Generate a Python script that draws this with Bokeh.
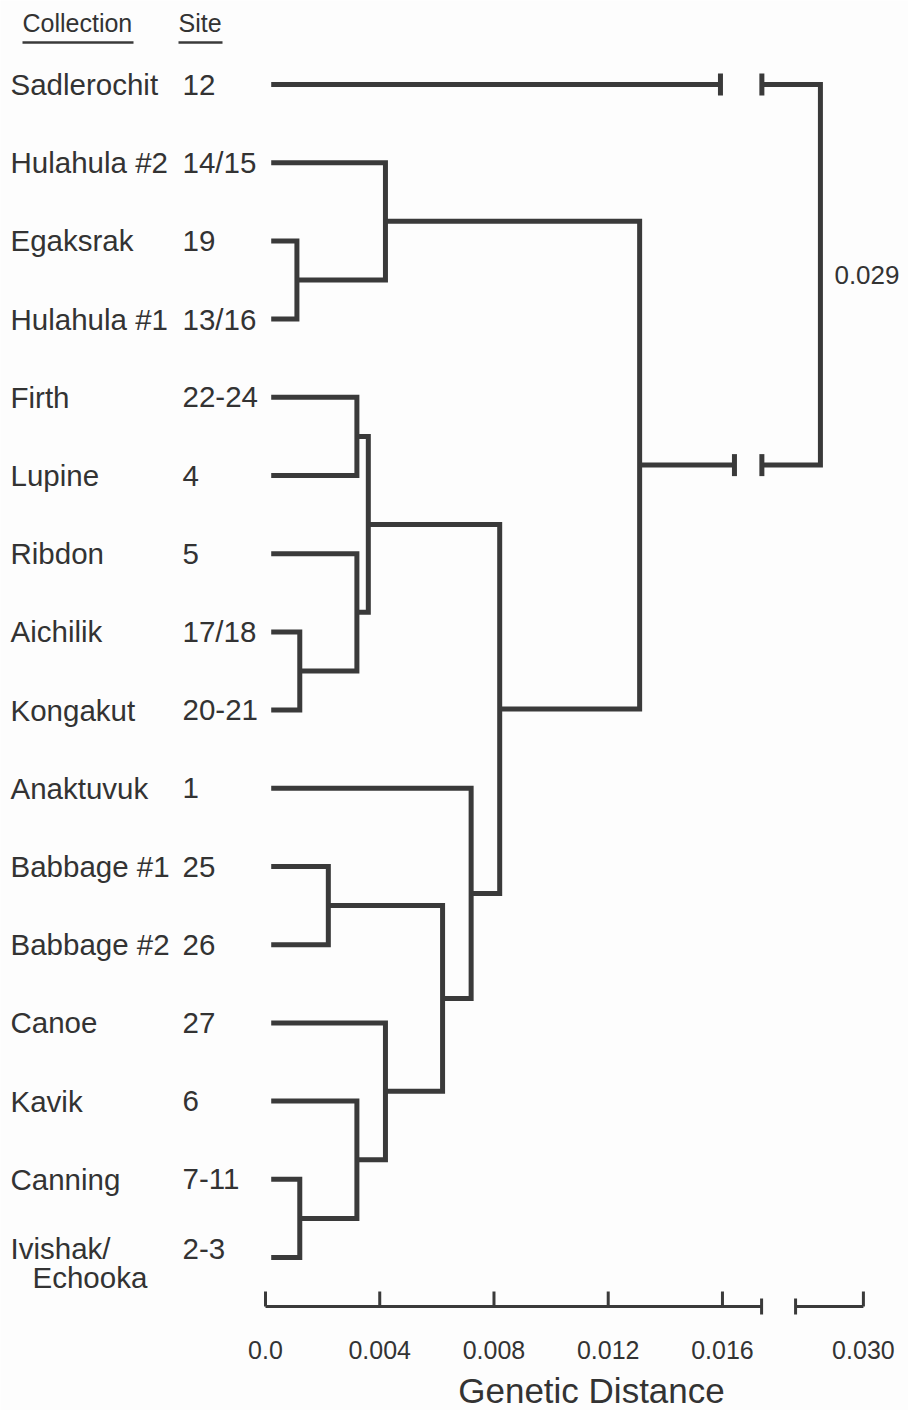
from bokeh.plotting import figure
from bokeh.models import Range1d
from bokeh.embed import file_html
from bokeh.resources import INLINE
from bokeh.core.properties import value

# ---------------- data ----------------
collections = ["Sadlerochit", "Hulahula #2", "Egaksrak", "Hulahula #1", "Firth",
               "Lupine", "Ribdon", "Aichilik", "Kongakut", "Anaktuvuk",
               "Babbage #1", "Babbage #2", "Canoe", "Kavik", "Canning",
               "Ivishak/\nEchooka"]
sites = ["12", "14/15", "19", "13/16", "22-24", "4", "5", "17/18", "20-21", "1",
         "25", "26", "27", "6", "7-11", "2-3"]
# linkage: new node ids start at 16
merge_left = [2, 1, 7, 6, 4, 20, 10, 14, 13, 12, 22, 9, 21, 17, 0]
merge_right = [3, 16, 8, 18, 5, 19, 11, 15, 23, 24, 25, 26, 27, 28, 29]
merge_height = [0.0011, 0.0042, 0.0012, 0.0032, 0.0032, 0.0036, 0.0022, 0.0012,
                0.0032, 0.0042, 0.0062, 0.0072, 0.0082, 0.0131, 0.029]
root_label = "0.029"
axis_ticks = [0.0, 0.004, 0.008, 0.012, 0.016]
axis_tick_labels = ["0.0", "0.004", "0.008", "0.012", "0.016"]
far_tick = [0.030]
far_tick_label = ["0.030"]
x_title = "Genetic Distance"
header_collection = "Collection"
header_site = "Site"

# ---------------- layout / style constants ----------------
W, H = 908, 1410
X0_PX, Y0_PX = 265.0, 84.0   # where distance 0 / first leaf row sit
PX_X = 28560.0      # px per distance unit
PX_Y = 78.2         # px per leaf row
LINE = "#3a3a3a"
TXT = "#333333"
FONT = value("Liberation Sans")
LEAF_X0 = 0.0002
RIGHT_ANCHOR_V, RIGHT_ANCHOR_D, RIGHT_STRETCH = 0.029, 0.01943, 1.505
BREAK_STOP = [0.01593, 0.01642]
BREAK_RESUME = 0.01738
AXIS_LEFT_END = 0.01737
AXIS_RIGHT_START = 0.01856


def xd(v):
    """broken-axis display position"""
    if v > 0.02:
        return RIGHT_ANCHOR_D + (v - RIGHT_ANCHOR_V) * RIGHT_STRETCH
    return v


def px2x(px):
    return px / PX_X


def px2y(px):
    return px / PX_Y


n = len(collections)
node_x = {i: LEAF_X0 for i in range(n)}
node_y = {i: -float(i) for i in range(n)}

p = figure(width=W, height=H, output_backend="svg", toolbar_location=None,
           x_range=Range1d(px2x(0 - X0_PX), px2x(W - X0_PX)),
           y_range=Range1d(-px2y(H - Y0_PX), px2y(Y0_PX)),
           x_axis_location=None, y_axis_location=None, min_border=0,
           background_fill_color="#fdfdfd", border_fill_color="#fdfdfd",
           outline_line_color=None)
p.xgrid.visible = False
p.ygrid.visible = False

xs, ys = [], []
tick_x0, tick_y0, tick_x1, tick_y1 = [], [], [], []
root_info = None
for k, (a, b, h) in enumerate(zip(merge_left, merge_right, merge_height)):
    nid = n + k
    ya, yb = node_y[a], node_y[b]
    node_y[nid] = (ya + yb) / 2.0
    node_x[nid] = xd(h)
    if k == len(merge_height) - 1:
        root_info = (a, b, h, nid)
        continue
    xs.append([node_x[a], h, h, node_x[b]])
    ys.append([ya, ya, yb, yb])

# root with broken branches
a, b, h, nid = root_info
xr = xd(h)
ya, yb = node_y[a], node_y[b]
xs.append([node_x[a], BREAK_STOP[0]])
ys.append([ya, ya])
xs.append([node_x[b], BREAK_STOP[1]])
ys.append([yb, yb])
xs.append([BREAK_RESUME, xr, xr, BREAK_RESUME])
ys.append([ya, ya, yb, yb])
half = px2y(11)
for yy, xstop in ((ya, BREAK_STOP[0]), (yb, BREAK_STOP[1])):
    for xx in (xstop, BREAK_RESUME):
        tick_x0.append(xx); tick_x1.append(xx)
        tick_y0.append(yy - half); tick_y1.append(yy + half)

p.multi_line(xs, ys, line_color=LINE, line_width=5, line_join="miter")
p.segment(tick_x0, tick_y0, tick_x1, tick_y1, line_color=LINE, line_width=5)

p.text([xr + px2x(14)], [node_y[nid]], text=[root_label], text_font=FONT,
       text_font_size="26px", text_color=TXT, text_baseline="middle", text_align="left")

# leaf labels
lab_x, lab_y, lab_t = [], [], []
sub_x, sub_y, sub_t = [], [], []
for i, name in enumerate(collections):
    parts = name.split("\n")
    if len(parts) == 1:
        lab_x.append(px2x(10 - X0_PX)); lab_y.append(node_y[i]); lab_t.append(name)
    else:
        lab_x.append(px2x(10 - X0_PX)); lab_y.append(node_y[i] + px2y(9)); lab_t.append(parts[0])
        sub_x.append(px2x(32 - X0_PX)); sub_y.append(node_y[i] - px2y(20)); sub_t.append(parts[1])
p.text(lab_x, lab_y, text=lab_t, text_font=FONT, text_font_size="29.5px",
       text_color=TXT, text_baseline="middle", text_align="left")
p.text(sub_x, sub_y, text=sub_t, text_font=FONT, text_font_size="29.5px",
       text_color=TXT, text_baseline="middle", text_align="left")
site_y = [node_y[i] + (px2y(9) if "\n" in collections[i] else 0) for i in range(n)]
p.text([px2x(182 - X0_PX)] * n, site_y, text=sites, text_font=FONT, text_font_size="29.5px",
       text_color=TXT, text_baseline="middle", text_align="left")

# headers
hy = px2y(Y0_PX - 22)
p.text([px2x(22 - X0_PX), px2x(178 - X0_PX)], [hy, hy], text=[header_collection, header_site],
       text_font=FONT, text_font_size="25px", text_color=TXT,
       text_baseline="middle", text_align="left")
uy = px2y(Y0_PX - 42)
p.segment([px2x(22 - X0_PX), px2x(178 - X0_PX)], [uy, uy],
          [px2x(133 - X0_PX), px2x(222 - X0_PX)], [uy, uy],
          line_color=LINE, line_width=2.5)

# broken x axis
ay = -px2y(1306 - Y0_PX)
p.segment([0.0, AXIS_RIGHT_START], [ay, ay], [AXIS_LEFT_END, xd(far_tick[0])], [ay, ay],
          line_color=LINE, line_width=3)
tick_vals = [xd(v) for v in axis_ticks + far_tick]
tl = px2y(15)
p.segment(tick_vals, [ay] * len(tick_vals), tick_vals, [ay + tl] * len(tick_vals),
          line_color=LINE, line_width=3)
bh = px2y(8)
p.segment([AXIS_LEFT_END, AXIS_RIGHT_START], [ay - bh] * 2, [AXIS_LEFT_END, AXIS_RIGHT_START],
          [ay + bh] * 2, line_color=LINE, line_width=3)
ly = -px2y(1349 - Y0_PX)
p.text(tick_vals, [ly] * len(tick_vals), text=axis_tick_labels + far_tick_label,
       text_font=FONT, text_font_size="25px", text_color=TXT,
       text_baseline="middle", text_align="center")
p.text([px2x(591 - X0_PX)], [-px2y(1390 - Y0_PX)], text=[x_title], text_font=FONT,
       text_font_size="35px", text_color=TXT, text_baseline="middle", text_align="center")

open("out.html", "w").write(file_html(p, INLINE))
